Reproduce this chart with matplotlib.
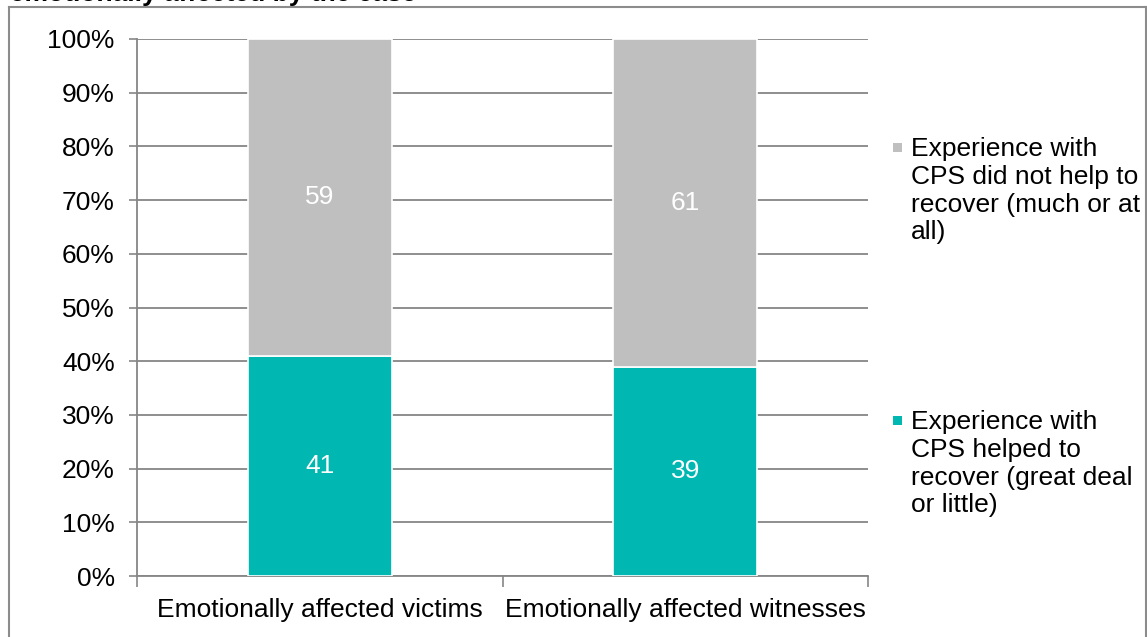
import matplotlib
matplotlib.use("Agg")
import matplotlib.pyplot as plt
from matplotlib.lines import Line2D
from matplotlib.patches import Rectangle
import numpy as np

plt.rcParams['font.family'] = ['Liberation Sans', 'DejaVu Sans']

categories = ["Emotionally affected victims", "Emotionally affected witnesses"]
helped = [41, 39]
not_helped = [59, 61]
series_labels = ["Experience with\nCPS did not help to\nrecover (much or at\nall)",
                 "Experience with\nCPS helped to\nrecover (great deal\nor little)"]
yticks = [0, 10, 20, 30, 40, 50, 60, 70, 80, 90, 100]
ytick_labels = [f"{v}%" for v in yticks]

teal = "#00B7B2"
gray = "#BFBFBF"
grid_c = "#868686"
FS = 19

W, H = 1147, 637
fig = plt.figure(figsize=(W / 100, H / 100), dpi=100)
ax = fig.add_axes([137 / W, 1 - 576 / H, (868 - 137) / W, (576 - 39) / H])

x = np.arange(len(categories))
bw = 0.395
ax.bar(x, helped, width=bw, color=teal, edgecolor="white", linewidth=1.2, zorder=3)
ax.bar(x, not_helped, width=bw, bottom=helped, color=gray, edgecolor="white", linewidth=1.2, zorder=3)

for i in range(len(categories)):
    ax.text(x[i], helped[i] / 2, str(helped[i]), ha="center", va="center",
            color="white", fontsize=FS, zorder=4)
    ax.text(x[i], helped[i] + not_helped[i] / 2, str(not_helped[i]), ha="center",
            va="center", color="white", fontsize=FS, zorder=4)

ax.set_xlim(-0.5, len(categories) - 0.5)
ax.set_ylim(0, 100)
ax.set_yticks(yticks)
ax.set_yticklabels(ytick_labels, fontsize=FS)
ax.yaxis.grid(True, color=grid_c, linewidth=1.3, zorder=0)
ax.set_axisbelow(True)

ax.set_xticks([-0.5, 0.5, 1.5], minor=False)
ax.set_xticklabels([])
ax.set_xticks(x, minor=True)
ax.set_xticklabels(categories, minor=True, fontsize=FS)
ax.tick_params(axis="x", which="major", length=8, color=grid_c, width=1.2, direction="out")
ax.tick_params(axis="x", which="minor", length=0, pad=16)
ax.tick_params(axis="y", length=6, color=grid_c, width=1.2, pad=10)

for s in ["top", "right"]:
    ax.spines[s].set_visible(False)
ax.spines["left"].set_color(grid_c)
ax.spines["bottom"].set_color(grid_c)
ax.spines["left"].set_linewidth(1.3)
ax.spines["bottom"].set_linewidth(1.3)

# legend (drawn manually: marker aligned with the first line of each entry)
legend_colors = [gray, teal]
legend_first_line_y = [147, 420]
for col, lab, yc in zip(legend_colors, series_labels, legend_first_line_y):
    fig.add_artist(Rectangle((893 / W, 1 - (yc + 5) / H), 9 / W, 9 / H,
                             facecolor=col, edgecolor="none", transform=fig.transFigure))
    fig.text(911 / W, 1 - (yc - 10) / H, lab, fontsize=FS, ha="left", va="top",
             linespacing=1.2)

# outer frame
fc = "#8C8C8C"
fig.add_artist(Line2D([9 / W, 1146 / W], [1 - 7 / H, 1 - 7 / H], color=fc, lw=1.5, transform=fig.transFigure))
fig.add_artist(Line2D([9 / W, 9 / W], [1 - 7 / H, 0], color=fc, lw=1.5, transform=fig.transFigure))
fig.add_artist(Line2D([1146 / W, 1146 / W], [1 - 7 / H, 0], color=fc, lw=1.5, transform=fig.transFigure))

# title, cut off at the top edge as in the reference
fig.text(10 / W, 1 - 1 / H, "emotionally affected by the case", fontsize=19,
         fontweight="bold", ha="left", va="baseline")

fig.savefig("out.png", dpi=100)
